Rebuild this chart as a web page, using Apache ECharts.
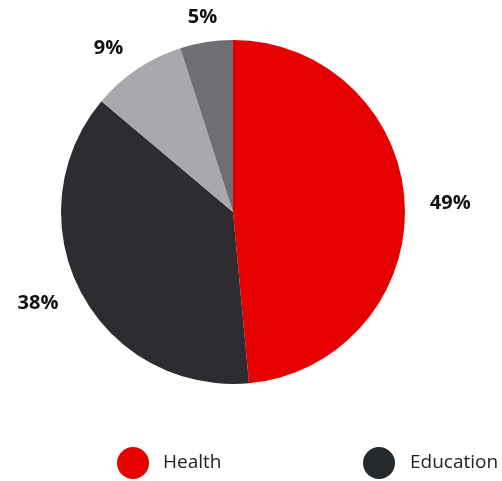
<!DOCTYPE html>
<html>
<head>
<meta charset="utf-8">
<script src="https://cdn.jsdelivr.net/npm/echarts@6/dist/echarts.min.js"></script>
<style>
  html, body { margin: 0; padding: 0; background: #ffffff; }
  #chart { width: 502px; height: 481px; }
</style>
</head>
<body>
<div id="chart"></div>
<script>
// Share of spending by sector (percent)
const categories = ['Health', 'Education', 'Other', 'Admin'];
const shares = [49, 38, 9, 5];
const sliceColors = ['#e60000', '#2e2c30', '#a8a9ac', '#6e6f72'];
const legendColors = ['#e60000', '#25292b'];

const PIE_CENTER = [233, 212];
const PIE_RADIUS = 172;
const LABEL_GAP = 25;

const total = shares.reduce((a, b) => a + b, 0);

// Mid angle of each slice, clockwise from 12 o'clock, in radians
function midAngle(i) {
  let before = 0;
  for (let k = 0; k < i; k++) before += shares[k];
  return ((before + shares[i] / 2) / total) * Math.PI * 2;
}

const chart = echarts.init(document.getElementById('chart'), null, { renderer: 'canvas' });

const legendBase = {
  orient: 'horizontal',
  top: 442,
  icon: 'circle',
  itemWidth: 32,
  itemHeight: 32,
  selectedMode: false,
  textStyle: {
    fontFamily: 'Open Sans',
    fontSize: 19,
    color: '#222222',
    padding: [0, 0, 0, 9]
  }
};

chart.setOption({
  animation: false,
  backgroundColor: '#ffffff',
  legend: [
    Object.assign({}, legendBase, {
      left: 112,
      data: [{ name: categories[0], itemStyle: { color: legendColors[0] } }]
    }),
    Object.assign({}, legendBase, {
      left: 358,
      textStyle: Object.assign({}, legendBase.textStyle, { padding: [0, 0, 0, 10] }),
      data: [{ name: categories[1], itemStyle: { color: legendColors[1] } }]
    })
  ],
  series: [{
    type: 'pie',
    center: PIE_CENTER,
    radius: PIE_RADIUS,
    startAngle: 90,
    clockwise: true,
    avoidLabelOverlap: false,
    data: categories.map((name, i) => ({
      name: name,
      value: shares[i],
      itemStyle: { color: sliceColors[i] }
    })),
    label: {
      show: true,
      position: 'outside',
      formatter: (p) => p.value + '%',
      fontFamily: 'Open Sans',
      fontWeight: 'bold',
      fontSize: 20,
      color: '#111111'
    },
    labelLine: { show: false },
    emphasis: { disabled: true },
    // Place each percentage just beyond the rim along its slice's mid angle
    labelLayout: function (params) {
      const a = midAngle(params.dataIndex);
      const dx = Math.sin(a);
      const dy = -Math.cos(a);
      const r = PIE_RADIUS + LABEL_GAP;
      const x = PIE_CENTER[0] + dx * r;
      const y = PIE_CENTER[1] + dy * r;
      let align = 'center';
      if (dx > 0.3) align = 'left';
      else if (dx < -0.3) align = 'right';
      return { x: x, y: y, align: align, verticalAlign: 'middle' };
    }
  }]
});
</script>
</body>
</html>
